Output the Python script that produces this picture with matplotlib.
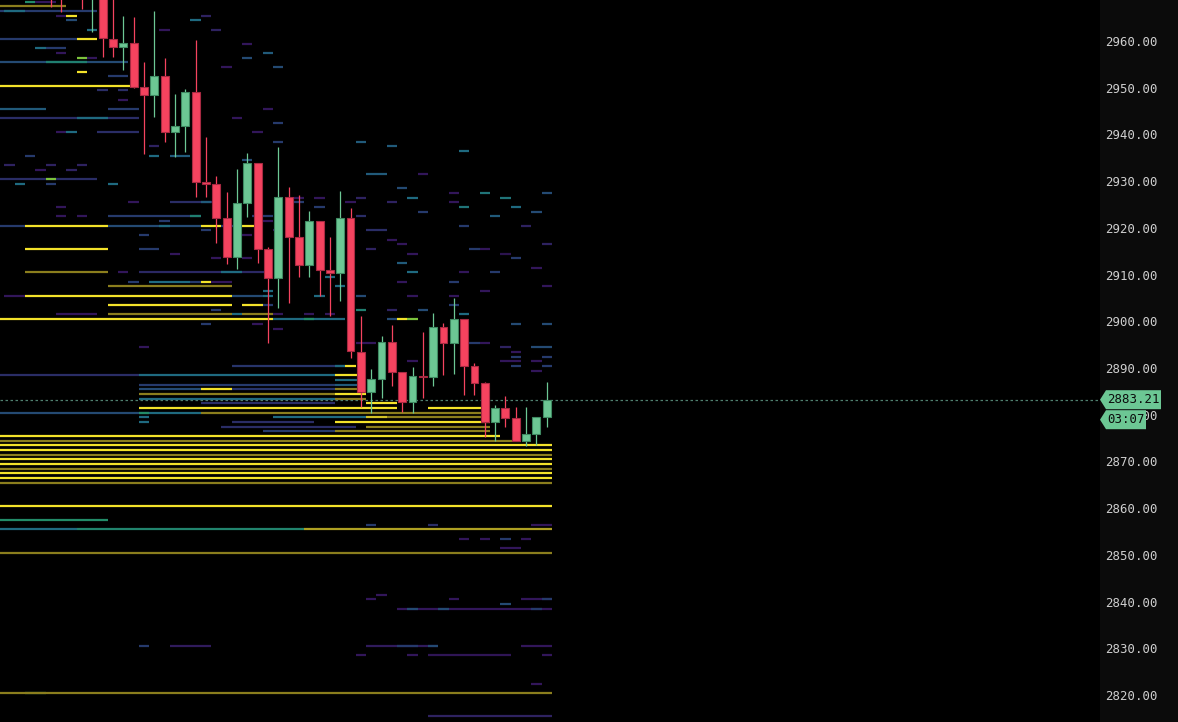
import numpy as np
import matplotlib.pyplot as plt
from matplotlib.colors import LinearSegmentedColormap
from matplotlib.patches import Rectangle, Polygon

# candles: bar index, open, high, low, close
bar_idx = list(range(5, 54))
opens = [2982, 2980, 2975, 2978, 2970, 2972, 2960.43, 2958.65, 2959.64, 2950.09,
         2948.51, 2952.51, 2940.52, 2941.87, 2949.02, 2929.88, 2929.39, 2922.04, 2913.82, 2925.38,
         2933.88, 2915.41, 2909.33, 2926.54, 2917.98, 2912.05, 2921.4, 2910.91, 2910.27, 2922.04,
         2893.49, 2884.93, 2887.58, 2895.5, 2889.08, 2882.66, 2888.28, 2888.0, 2898.71, 2895.28,
         2900.49, 2890.36, 2886.85, 2878.5, 2881.5, 2879.36, 2874.37, 2875.87, 2879.57]
highs = [2985, 2984, 2980, 2980, 2978, 2975, 2969.5, 2965.35, 2965.08, 2955.44,
         2966.49, 2956.3, 2948.72, 2949.66, 2960.22, 2939.51, 2931.16, 2927.61, 2932.6, 2936.09,
         2933.88, 2915.83, 2937.37, 2928.81, 2927.03, 2923.67, 2921.4, 2918.04, 2927.95, 2924.19,
         2901.13, 2889.72, 2896.85, 2899.2, 2889.08, 2890.28, 2897.64, 2901.71, 2899.57, 2904.92,
         2900.49, 2891.13, 2887.06, 2882.07, 2884.0, 2881.71, 2881.71, 2879.6, 2887.0]
lows = [2967.35, 2966.2, 2970, 2966.8, 2962.0, 2956.65, 2956.65, 2953.79, 2950.0, 2935.75,
        2943.67, 2938.31, 2935.23, 2936.3, 2926.67, 2926.67, 2916.82, 2912.2, 2911.13, 2922.39,
        2912.54, 2895.28, 2902.78, 2903.98, 2909.54, 2909.41, 2905.41, 2901.19, 2904.34, 2892.07,
        2881.71, 2880.3, 2883.5, 2886.2, 2880.64, 2880.3, 2883.5, 2886.2, 2888.5, 2888.71,
        2884.2, 2884.2, 2875.16, 2874.43, 2877.3, 2874.37, 2873.3, 2873.5, 2877.3]
closes = [2975, 2972, 2978, 2972, 2976, 2960.58, 2958.65, 2959.64, 2950.22, 2948.51,
          2952.57, 2940.52, 2941.87, 2949.02, 2929.88, 2929.32, 2922.04, 2913.82, 2925.32, 2933.88,
          2915.41, 2909.33, 2926.54, 2918.11, 2912.05, 2921.4, 2910.98, 2910.27, 2922.04, 2893.64,
          2884.93, 2887.58, 2895.5, 2889.08, 2882.66, 2888.28, 2888.07, 2898.71, 2895.28, 2900.49,
          2890.43, 2886.85, 2878.5, 2881.5, 2879.36, 2874.37, 2875.87, 2879.57, 2883.21]

last_price = 2883.21
countdown = "03:07"
price_ticks = np.arange(2820, 2961, 10)

# order book levels: (price level, first bar, last bar, intensity 0..1)
heat_top = [
    (2968, 3, 3, 0.65), (2968, 4, 5, 0.2), (2967, 0, 6, 0.85),
    (2966, 0, 9, 0.35), (2966, 1, 2, 0.5), (2965, 6, 6, 0.2), (2965, 7, 7, 1.0), (2965, 20, 20, 0.25),
    (2964, 7, 7, 0.4), (2964, 19, 19, 0.5), (2962, 9, 9, 0.5), (2962, 16, 16, 0.2), (2962, 21, 21, 0.25),
    (2960, 0, 7, 0.35), (2960, 8, 9, 1.0), (2959, 24, 24, 0.2),
    (2958, 4, 4, 0.5), (2958, 5, 6, 0.35), (2957, 6, 6, 0.2), (2957, 26, 26, 0.45),
    (2956, 8, 8, 0.75), (2956, 9, 9, 0.2), (2956, 24, 24, 0.4),
    (2955, 0, 12, 0.4), (2955, 5, 8, 0.6), (2954, 22, 22, 0.2), (2954, 27, 27, 0.4),
    (2953, 8, 8, 1.0), (2952, 11, 12, 0.35), (2950, 0, 13, 1.0),
    (2949, 10, 10, 0.3), (2949, 12, 12, 0.3), (2947, 12, 12, 0.2),
    (2945, 0, 4, 0.45), (2945, 11, 13, 0.35), (2945, 26, 26, 0.2),
    (2943, 0, 13, 0.3), (2943, 8, 10, 0.5), (2943, 23, 23, 0.2), (2942, 27, 27, 0.35),
    (2940, 6, 6, 0.2), (2940, 7, 7, 0.5), (2940, 10, 13, 0.3), (2940, 25, 25, 0.2),
    (2938, 27, 27, 0.35), (2938, 35, 35, 0.45), (2937, 15, 15, 0.25), (2937, 38, 38, 0.45),
    (2936, 45, 45, 0.5), (2935, 3, 3, 0.35), (2935, 15, 15, 0.5), (2935, 17, 18, 0.45),
    (2934, 24, 24, 0.4), (2933, 1, 1, 0.25), (2933, 5, 5, 0.25), (2933, 8, 8, 0.25),
    (2932, 4, 4, 0.2), (2932, 7, 7, 0.25), (2931, 36, 37, 0.45), (2931, 41, 41, 0.2),
    (2930, 0, 9, 0.3), (2930, 5, 5, 0.75), (2929, 2, 2, 0.5), (2929, 5, 5, 0.35), (2929, 11, 11, 0.5),
    (2928, 39, 39, 0.4),
]
heat_upper = [
    (2927, 44, 44, 0.2), (2927, 47, 47, 0.55), (2927, 53, 53, 0.4),
    (2926, 29, 29, 0.2), (2926, 31, 31, 0.2), (2926, 35, 35, 0.25), (2926, 40, 40, 0.5), (2926, 49, 49, 0.55),
    (2925, 13, 13, 0.2), (2925, 17, 21, 0.3), (2925, 20, 20, 0.45), (2925, 29, 29, 0.35),
    (2925, 34, 34, 0.2), (2925, 38, 38, 0.25), (2925, 44, 44, 0.2),
    (2924, 6, 6, 0.2), (2924, 31, 31, 0.35), (2924, 45, 45, 0.55), (2924, 50, 50, 0.5),
    (2923, 41, 41, 0.35), (2923, 52, 52, 0.4),
    (2922, 6, 6, 0.2), (2922, 8, 8, 0.2), (2922, 11, 19, 0.35), (2922, 19, 19, 0.6),
    (2922, 25, 26, 0.35), (2922, 35, 35, 0.3), (2922, 48, 48, 0.45),
    (2921, 16, 16, 0.35), (2921, 26, 26, 0.2),
    (2920, 0, 2, 0.35), (2920, 3, 10, 1.0), (2920, 11, 19, 0.4), (2920, 16, 16, 0.5),
    (2920, 20, 21, 1.0), (2920, 22, 23, 0.35), (2920, 24, 25, 1.0), (2920, 45, 45, 0.35), (2920, 51, 51, 0.25),
    (2919, 20, 20, 0.35), (2919, 27, 27, 0.2), (2919, 36, 37, 0.3),
    (2918, 14, 14, 0.35), (2918, 24, 24, 0.2), (2917, 38, 38, 0.2),
    (2916, 39, 39, 0.2), (2916, 53, 53, 0.25),
    (2915, 3, 10, 1.0), (2915, 14, 15, 0.35), (2915, 36, 36, 0.25), (2915, 46, 46, 0.35), (2915, 47, 47, 0.2),
    (2914, 17, 17, 0.2), (2914, 40, 40, 0.2), (2914, 49, 49, 0.15),
    (2913, 21, 21, 0.2), (2913, 24, 24, 0.2), (2913, 50, 50, 0.35),
    (2912, 39, 39, 0.45), (2911, 52, 52, 0.2),
    (2910, 3, 10, 0.85), (2910, 12, 12, 0.2), (2910, 14, 26, 0.28), (2910, 22, 23, 0.5),
    (2910, 40, 40, 0.5), (2910, 45, 45, 0.2), (2910, 48, 48, 0.35),
    (2909, 32, 32, 0.5),
    (2908, 13, 13, 0.35), (2908, 15, 18, 0.5), (2908, 19, 19, 0.35), (2908, 20, 20, 1.0),
    (2908, 21, 22, 0.2), (2908, 39, 39, 0.2), (2908, 44, 44, 0.35),
    (2907, 11, 22, 0.85), (2907, 33, 33, 0.5), (2907, 53, 53, 0.2),
    (2906, 26, 26, 0.5), (2906, 47, 47, 0.2),
    (2905, 1, 2, 0.2), (2905, 3, 22, 1.0), (2905, 23, 25, 0.4), (2905, 26, 26, 0.5),
    (2905, 31, 31, 0.5), (2905, 35, 35, 0.4), (2905, 40, 40, 0.2), (2905, 44, 44, 0.2),
    (2903, 11, 22, 1.0), (2903, 24, 25, 1.0), (2903, 26, 26, 0.35), (2903, 44, 44, 0.35),
    (2902, 21, 21, 0.35), (2902, 35, 35, 0.6), (2902, 38, 38, 0.25), (2902, 41, 41, 0.4),
    (2901, 6, 9, 0.2), (2901, 11, 22, 0.85), (2901, 23, 23, 0.5), (2901, 24, 26, 0.85),
    (2901, 27, 27, 0.2), (2901, 30, 30, 0.2), (2901, 32, 32, 0.2), (2901, 45, 45, 0.5),
    (2900, 0, 26, 1.0), (2900, 27, 33, 0.5), (2900, 30, 30, 0.65), (2900, 38, 38, 0.4),
    (2900, 39, 39, 1.0), (2900, 40, 40, 0.75),
    (2899, 20, 20, 0.35), (2899, 25, 25, 0.2), (2899, 50, 50, 0.4), (2899, 53, 53, 0.4),
    (2898, 27, 27, 0.2),
]
heat_mid = [
    (2895, 35, 36, 0.2), (2895, 46, 46, 0.35), (2895, 47, 47, 0.2),
    (2894, 14, 14, 0.2), (2894, 49, 49, 0.25), (2894, 52, 53, 0.4),
    (2893, 50, 50, 0.2), (2892, 50, 50, 0.35), (2892, 53, 53, 0.35),
    (2891, 40, 40, 0.2), (2891, 49, 50, 0.2), (2891, 52, 52, 0.2),
    (2890, 23, 33, 0.33), (2890, 33, 33, 0.5), (2890, 34, 34, 1.0), (2890, 50, 50, 0.35), (2890, 53, 53, 0.35),
    (2889, 52, 52, 0.2),
    (2888, 0, 13, 0.3), (2888, 14, 32, 0.5), (2888, 33, 35, 1.0),
    (2887, 33, 35, 0.5),
    (2886, 14, 32, 0.35), (2886, 33, 35, 0.45),
    (2885, 14, 19, 0.4), (2885, 20, 22, 1.0), (2885, 23, 32, 0.33), (2885, 33, 35, 0.85),
    (2884, 14, 32, 0.85), (2884, 33, 35, 1.0),
    (2883, 14, 32, 0.5), (2883, 33, 35, 0.85),
    (2882, 20, 32, 0.3), (2882, 36, 38, 1.0),
    (2881, 14, 35, 1.0), (2881, 36, 38, 1.0), (2881, 42, 47, 1.0),
    (2880, 0, 13, 0.4), (2880, 14, 19, 0.5), (2880, 14, 14, 0.65), (2880, 20, 47, 0.85),
    (2879, 14, 14, 0.5), (2879, 27, 35, 0.5), (2879, 36, 37, 0.95), (2879, 38, 47, 0.85),
    (2878, 14, 14, 0.5), (2878, 23, 30, 0.3), (2878, 33, 47, 1.0),
    (2877, 22, 34, 0.3), (2877, 36, 47, 0.85),
    (2876, 26, 32, 0.35), (2876, 33, 47, 0.85),
]
heat_band = [
    (2875, 0, 48, 1.0), (2874, 0, 50, 0.85), (2873, 0, 53, 1.0), (2872, 0, 53, 1.0),
    (2871, 0, 53, 0.85), (2870, 0, 53, 1.0), (2869, 0, 53, 1.0), (2868, 0, 53, 0.85),
    (2867, 0, 53, 1.0), (2866, 0, 53, 1.0), (2865, 0, 53, 0.85),
]
heat_low = [
    (2860, 0, 53, 1.0), (2857, 0, 10, 0.65),
    (2856, 36, 36, 0.35), (2856, 42, 42, 0.3), (2856, 52, 53, 0.2),
    (2855, 0, 7, 0.5), (2855, 8, 29, 0.62), (2855, 30, 53, 0.9),
    (2853, 45, 45, 0.2), (2853, 47, 47, 0.2), (2853, 49, 49, 0.35), (2853, 51, 51, 0.2),
    (2851, 49, 50, 0.2), (2850, 0, 53, 0.85),
    (2841, 37, 37, 0.2), (2840, 36, 36, 0.2), (2840, 44, 44, 0.2), (2840, 51, 53, 0.2), (2840, 53, 53, 0.35),
    (2839, 49, 49, 0.4),
    (2838, 39, 53, 0.2), (2838, 40, 40, 0.4), (2838, 43, 43, 0.4), (2838, 52, 52, 0.35),
    (2830, 14, 14, 0.35), (2830, 17, 20, 0.22), (2830, 36, 42, 0.22), (2830, 39, 40, 0.35),
    (2830, 42, 42, 0.4), (2830, 51, 51, 0.2), (2830, 52, 53, 0.2),
    (2828, 35, 35, 0.2), (2828, 40, 40, 0.2), (2828, 42, 49, 0.18), (2828, 53, 53, 0.2),
    (2822, 52, 52, 0.2), (2820, 0, 53, 0.85), (2820, 3, 4, 0.7), (2815, 42, 53, 0.25),
]

heat_cmap = LinearSegmentedColormap.from_list("book", [
    (0.0, "#180a2a"), (0.2, "#32165a"), (0.33, "#27346a"), (0.5, "#1f6a80"),
    (0.65, "#218a68"), (0.75, "#7cc63f"), (0.8, "#7a8a22"), (0.85, "#8a7d1d"), (1.0, "#f3e22a")])

W, H = 1178, 722
fig = plt.figure(figsize=(W / 100, H / 100), dpi=100, facecolor="#0b0b0b")
ax = fig.add_axes([0, 0, 1100 / W, 1])
ax.set_facecolor("#000000")

y_top = 2968.78
y_bot = y_top - 722 / 4.671
bar_px = 10.33
ax.set_xlim(0.7 / bar_px, (1100 + 0.7) / bar_px)
ax.set_ylim(y_bot, y_top)

# heatmap lines, dim ones first
segs = heat_top + heat_upper + heat_mid + heat_band + heat_low
segs = sorted(segs, key=lambda s: s[3])
for lvl, k0, k1, v in segs:
    ax.hlines(lvl + 0.45, k0 - 0.5, k1 + 0.5, colors=heat_cmap(v), linewidth=1.6, zorder=1)

# last price line
ax.axhline(last_price, color="#4f7f6f", lw=0.9, ls=(0, (2, 2)), zorder=2)

# candles
up_col, dn_col = "#6cc794", "#f5435f"
up_edge, dn_edge = "#3f8a62", "#a82a42"
for k, o, h, l, c in zip(bar_idx, opens, highs, lows, closes):
    up = c >= o
    col = up_col if up else dn_col
    ax.vlines(k, l, h, color=col, lw=0.9, zorder=3)
    bottom = min(o, c)
    height = max(abs(c - o), 0.3)
    ax.add_patch(Rectangle((k - 0.385, bottom), 0.77, height, facecolor=col,
                           edgecolor=up_edge if up else dn_edge, lw=0.8, zorder=4))

# axis
ax.set_xticks([])
ax.yaxis.tick_right()
ax.set_yticks(price_ticks)
ax.set_yticklabels([f"{p:.2f}" for p in price_ticks])
ax.tick_params(axis="y", length=0, pad=3.6, labelsize=8.9, labelcolor="#cfcfcf")
for lab in ax.get_yticklabels():
    lab.set_family("DejaVu Sans Mono")
for s in ax.spines.values():
    s.set_visible(False)

# price / countdown tags
ppu = H / (y_top - y_bot)
yc = (y_top - last_price) * ppu


def tag(yc, x_right, text):
    pts = [(1100, yc), (1106, yc - 9.5), (x_right, yc - 9.5), (x_right, yc + 9.5), (1106, yc + 9.5)]
    pts = [(x / W, 1 - y / H) for x, y in pts]
    fig.add_artist(Polygon(pts, closed=True, transform=fig.transFigure,
                           facecolor=up_col, edgecolor="none", zorder=5))
    fig.text(1107 / W, 1 - yc / H, text, ha="left", va="center", fontsize=8.9,
             family="DejaVu Sans Mono", color="#0c0c0c", zorder=6)


tag(yc, 1161, f"{last_price:.2f}")
tag(yc + 20, 1146, countdown)

fig.savefig("out.png", dpi=100, facecolor=fig.get_facecolor())
